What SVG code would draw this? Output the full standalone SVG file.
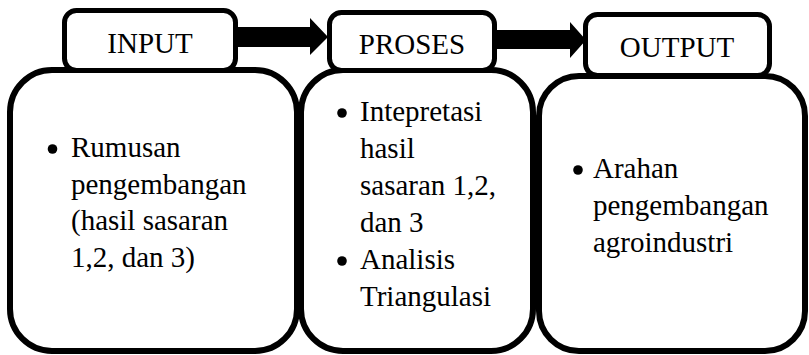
<svg xmlns="http://www.w3.org/2000/svg" width="809" height="355" viewBox="0 0 809 355">
  <style>
    .panel { fill: #ffffff; stroke: #000000; stroke-width: 6; }
    .tab { fill: #ffffff; stroke: #000000; stroke-width: 5; }
    .title { font-family: "Liberation Serif", "Times New Roman", serif; font-size: 29px; fill: #000000; text-anchor: middle; }
    .body { font-family: "Liberation Serif", "Times New Roman", serif; font-size: 29px; fill: #000000; }
    .dot { fill: #000000; }
    .arrow { fill: #000000; }
  </style>
  <rect width="809" height="355" fill="#ffffff"/>

  <!-- INPUT stage -->
  <g id="input">
    <rect class="panel" x="10" y="70" width="287" height="281" rx="42"/>
    <rect class="tab" x="64.5" y="10.5" width="171" height="60" rx="12"/>
    <text class="title" x="150" y="53">INPUT</text>
    <circle class="dot" cx="52.5" cy="149" r="4.8"/>
    <text class="body">
      <tspan x="71" y="157">Rumusan</tspan>
      <tspan x="71" y="194">pengembangan</tspan>
      <tspan x="71" y="230">(hasil sasaran</tspan>
      <tspan x="71" y="267">1,2, dan 3)</tspan>
    </text>
  </g>

  <!-- PROSES stage -->
  <g id="proses">
    <rect class="panel" x="301" y="70" width="232" height="281" rx="42"/>
    <rect class="tab" x="329.5" y="12.5" width="165" height="58" rx="12"/>
    <text class="title" x="412" y="54">PROSES</text>
    <circle class="dot" cx="342" cy="113" r="4.8"/>
    <circle class="dot" cx="342" cy="261" r="4.8"/>
    <text class="body">
      <tspan x="360" y="121">Intepretasi</tspan>
      <tspan x="360" y="158">hasil</tspan>
      <tspan x="360" y="195">sasaran 1,2,</tspan>
      <tspan x="360" y="232">dan 3</tspan>
      <tspan x="360" y="269">Analisis</tspan>
      <tspan x="360" y="306">Triangulasi</tspan>
    </text>
  </g>

  <!-- OUTPUT stage -->
  <g id="output">
    <rect class="panel" x="539" y="76" width="266" height="275" rx="40"/>
    <rect class="tab" x="585.5" y="14.5" width="184" height="61" rx="12"/>
    <text class="title" x="677" y="57">OUTPUT</text>
    <circle class="dot" cx="578" cy="170" r="4.8"/>
    <text class="body">
      <tspan x="593" y="178">Arahan</tspan>
      <tspan x="593" y="215">pengembangan</tspan>
      <tspan x="593" y="252">agroindustri</tspan>
    </text>
  </g>

  <!-- Block arrows between stages -->
  <g id="connectors">
    <polygon class="arrow" points="238,27 310,27 310,18 328,37 310,55 310,47 238,47"/>
    <polygon class="arrow" points="497,30 570,30 570,22 586,40 570,58 570,49 497,49"/>
  </g>
</svg>
